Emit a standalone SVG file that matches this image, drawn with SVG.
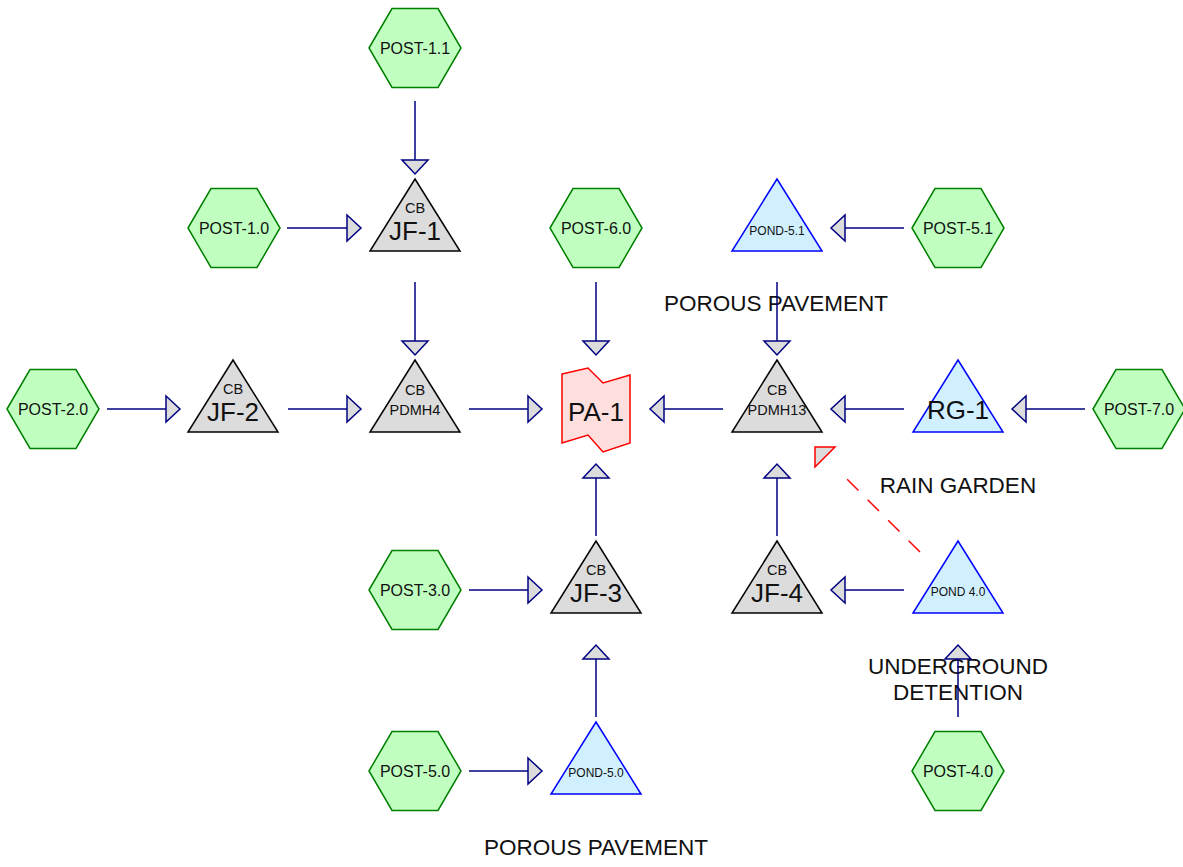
<svg xmlns="http://www.w3.org/2000/svg" width="1183" height="867" viewBox="0 0 1183 867">
<style>
text{font-family:"Liberation Sans",Arial,sans-serif;fill:#111;text-anchor:middle}
.hex{fill:#c0ffc0;stroke:#008000;stroke-width:1.5}
.cb{fill:#dcdcdc;stroke:#000;stroke-width:1.5}
.pond{fill:#d0f0ff;stroke:#0000ff;stroke-width:1.5}
.pa{fill:#ffdede;stroke:#ff0000;stroke-width:1.5}
.hl{font-size:16px}
.big{font-size:26px}
.sm{font-size:14.5px}
.tiny{font-size:12px}
.lbl{font-size:22.5px}
.c{stroke:#000080;stroke-width:1.5;fill:none;marker-end:url(#ah)}
</style>
<defs>
<marker id="ah" markerUnits="userSpaceOnUse" markerWidth="16" markerHeight="28" viewBox="0 0 16 28" refX="15" refY="14" orient="auto" overflow="visible">
<path d="M1,1 L15,14 L1,27 Z" fill="#dcdcdc" stroke="#000080" stroke-width="1.5"/>
</marker>
<polygon id="hexs" points="-46,0 -23,-39.5 23,-39.5 46,0 23,39.5 -23,39.5"/>
<polygon id="tri" points="0,-49 45,23 -45,23"/>
</defs>
<rect width="1183" height="867" fill="#fff"/>

<g id="labels">
<text class="lbl" x="776" y="311">POROUS PAVEMENT</text>
<text class="lbl" x="958" y="493">RAIN GARDEN</text>
<text class="lbl" x="958" y="674">UNDERGROUND</text>
<text class="lbl" x="958" y="700">DETENTION</text>
<text class="lbl" x="596" y="855">POROUS PAVEMENT</text>
</g>

<g id="POST-1.1"><use href="#hexs" class="hex" x="415" y="48"/><text class="hl" x="415" y="54">POST-1.1</text></g>
<g id="POST-1.0"><use href="#hexs" class="hex" x="234" y="228"/><text class="hl" x="234" y="234">POST-1.0</text></g>
<g id="POST-6.0"><use href="#hexs" class="hex" x="596" y="228"/><text class="hl" x="596" y="234">POST-6.0</text></g>
<g id="POST-5.1"><use href="#hexs" class="hex" x="958" y="228"/><text class="hl" x="958" y="234">POST-5.1</text></g>
<g id="POST-2.0"><use href="#hexs" class="hex" x="53" y="409"/><text class="hl" x="53" y="415">POST-2.0</text></g>
<g id="POST-7.0"><use href="#hexs" class="hex" x="1139" y="409"/><text class="hl" x="1139" y="415">POST-7.0</text></g>
<g id="POST-3.0"><use href="#hexs" class="hex" x="415" y="590"/><text class="hl" x="415" y="596">POST-3.0</text></g>
<g id="POST-5.0"><use href="#hexs" class="hex" x="415" y="771"/><text class="hl" x="415" y="777">POST-5.0</text></g>
<g id="POST-4.0"><use href="#hexs" class="hex" x="958" y="771"/><text class="hl" x="958" y="777">POST-4.0</text></g>

<g id="JF-1"><use href="#tri" class="cb" x="415" y="228"/><text class="sm" x="415" y="213">CB</text><text class="big" x="415" y="240">JF-1</text></g>
<g id="JF-2"><use href="#tri" class="cb" x="233" y="409"/><text class="sm" x="233" y="394">CB</text><text class="big" x="233" y="421">JF-2</text></g>
<g id="PDMH4"><use href="#tri" class="cb" x="415" y="409"/><text class="sm" x="415" y="395">CB</text><text class="sm" x="415" y="415">PDMH4</text></g>
<g id="PDMH13"><use href="#tri" class="cb" x="777" y="409"/><text class="sm" x="777" y="395">CB</text><text class="sm" x="777" y="415">PDMH13</text></g>
<g id="JF-3"><use href="#tri" class="cb" x="596" y="590"/><text class="sm" x="596" y="575">CB</text><text class="big" x="596" y="602">JF-3</text></g>
<g id="JF-4"><use href="#tri" class="cb" x="777" y="590"/><text class="sm" x="777" y="575">CB</text><text class="big" x="777" y="602">JF-4</text></g>

<g id="POND-5.1"><use href="#tri" class="pond" x="777" y="228"/><text class="tiny" x="777" y="235">POND-5.1</text></g>
<g id="RG-1"><use href="#tri" class="pond" x="958" y="409"/><text class="big" x="958" y="419">RG-1</text></g>
<g id="POND-4.0"><use href="#tri" class="pond" x="958" y="590"/><text class="tiny" x="958" y="596">POND 4.0</text></g>
<g id="POND-5.0"><use href="#tri" class="pond" x="596" y="771"/><text class="tiny" x="596" y="777">POND-5.0</text></g>

<g id="PA-1"><polygon class="pa" points="562,374 588,368 603,383 630,375 630,443 603,452 588,435 562,443"/><text class="big" x="596" y="421">PA-1</text></g>

<g id="connectors">
<line class="c" x1="287" y1="228" x2="361" y2="228"/>
<line class="c" x1="107" y1="409" x2="180" y2="409"/>
<line class="c" x1="288" y1="409" x2="361" y2="409"/>
<line class="c" x1="469" y1="409" x2="542" y2="409"/>
<line class="c" x1="469" y1="590" x2="542" y2="590"/>
<line class="c" x1="469" y1="771" x2="542" y2="771"/>
<line class="c" x1="904" y1="228" x2="831" y2="228"/>
<line class="c" x1="723" y1="409" x2="650" y2="409"/>
<line class="c" x1="904" y1="409" x2="831" y2="409"/>
<line class="c" x1="1085" y1="409" x2="1012" y2="409"/>
<line class="c" x1="904" y1="590" x2="831" y2="590"/>
<line class="c" x1="415" y1="101" x2="415" y2="174"/>
<line class="c" x1="415" y1="282" x2="415" y2="355"/>
<line class="c" x1="596" y1="282" x2="596" y2="355"/>
<line class="c" x1="777" y1="282" x2="777" y2="355"/>
<line class="c" x1="596" y1="536" x2="596" y2="464"/>
<line class="c" x1="777" y1="536" x2="777" y2="464"/>
<line class="c" x1="596" y1="717" x2="596" y2="645"/>
<line class="c" x1="958" y1="717" x2="958" y2="645"/>
<line x1="920" y1="552" x2="845" y2="477" stroke="#ff0000" stroke-width="1.5" stroke-dasharray="16 13"/>
<polygon points="815,447 835,447 815,467" fill="#dcdcdc" stroke="#ff0000" stroke-width="1.5"/>
</g>
</svg>
